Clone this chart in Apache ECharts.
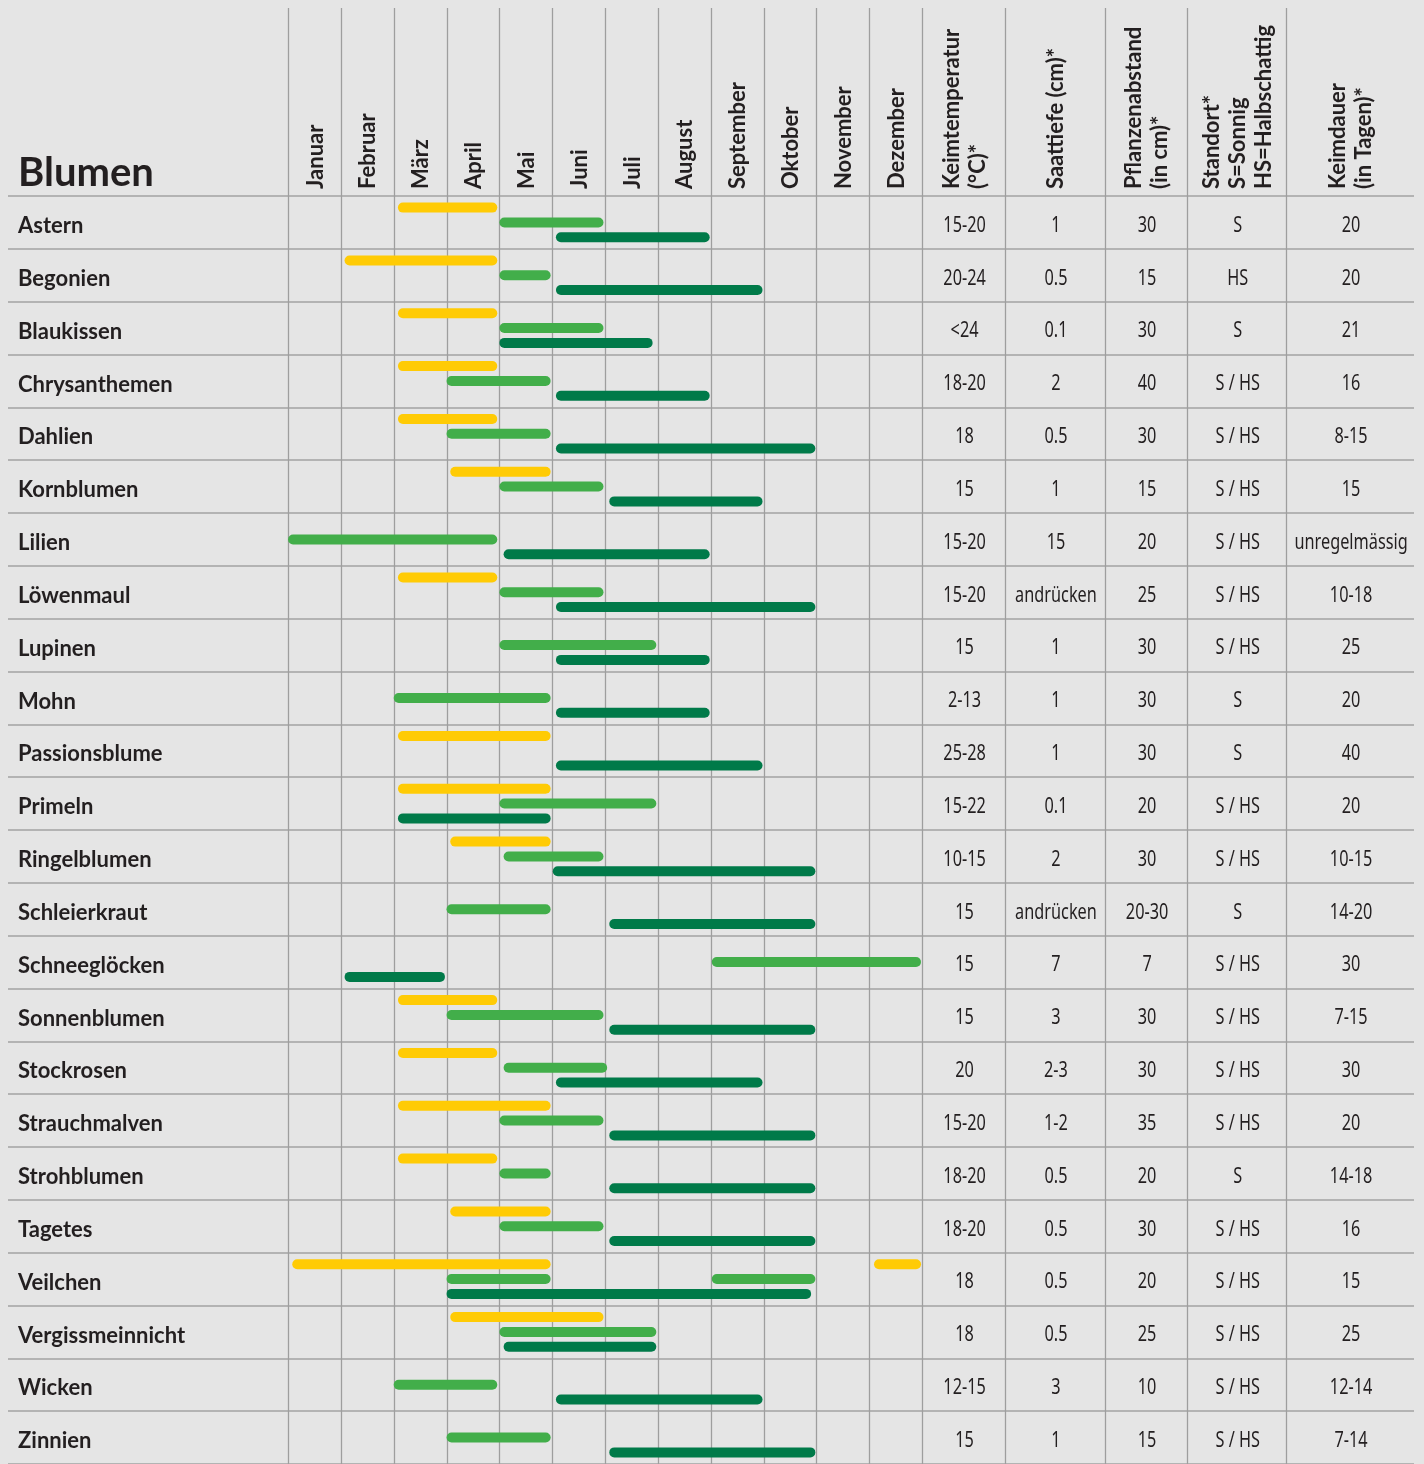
<!DOCTYPE html>
<html>
<head>
<meta charset="utf-8">
<script src="https://cdn.jsdelivr.net/npm/echarts@6/dist/echarts.min.js"></script>
<style>
  html, body { margin: 0; background: #e5e5e5; }
  #chart { width: 1424px; height: 1464px; }
</style>
</head>
<body>
<div id="chart"></div>
<script>
// Zeilen (Blumen)
const flowers = ['Astern', 'Begonien', 'Blaukissen', 'Chrysanthemen', 'Dahlien', 'Kornblumen', 'Lilien',
  'Löwenmaul', 'Lupinen', 'Mohn', 'Passionsblume', 'Primeln', 'Ringelblumen', 'Schleierkraut',
  'Schneeglöcken', 'Sonnenblumen', 'Stockrosen', 'Strauchmalven', 'Strohblumen', 'Tagetes',
  'Veilchen', 'Vergissmeinnicht', 'Wicken', 'Zinnien']

const months = ['Januar', 'Februar', 'März', 'April', 'Mai', 'Juni', 'Juli', 'August',
  'September', 'Oktober', 'November', 'Dezember']

const infoHeaders = ['Keimtemperatur\n(°C)*', 'Saattiefe (cm)*', 'Pflanzenabstand\n(in cm)*',
  'Standort*\nS=Sonnig\nHS=Halbschattig', 'Keimdauer\n(in Tagen)*']

// Tabellenwerte
const keimtemperatur = ['15-20', '20-24', '<24', '18-20', '18', '15', '15-20', '15-20', '15', '2-13', '25-28', '15-22',
  '10-15', '15', '15', '15', '20', '15-20', '18-20', '18-20', '18', '18', '12-15', '15']
const saattiefe = ['1', '0.5', '0.1', '2', '0.5', '1', '15', 'andrücken', '1', '1', '1', '0.1',
  '2', 'andrücken', '7', '3', '2-3', '1-2', '0.5', '0.5', '0.5', '0.5', '3', '1']
const pflanzenabstand = ['30', '15', '30', '40', '30', '15', '20', '25', '30', '30', '30', '20',
  '30', '20-30', '7', '30', '30', '35', '20', '30', '20', '25', '10', '15']
const standort = ['S', 'HS', 'S', 'S / HS', 'S / HS', 'S / HS', 'S / HS', 'S / HS', 'S / HS', 'S', 'S', 'S / HS',
  'S / HS', 'S', 'S / HS', 'S / HS', 'S / HS', 'S / HS', 'S', 'S / HS', 'S / HS', 'S / HS', 'S / HS', 'S / HS']
const keimdauer = ['20', '20', '21', '16', '8-15', '15', 'unregelmässig', '10-18', '25', '20', '40', '20',
  '10-15', '14-20', '30', '7-15', '30', '20', '14-18', '16', '15', '25', '12-14', '7-14']

// Balken: [Zeile, Beginn, Ende] in Monaten (0 = Anfang Januar)
const vorkultur = [ // gelb
  [0, 2.08, 3.96], [1, 1.07, 3.96], [2, 2.08, 3.96], [3, 2.08, 3.96], [4, 2.08, 3.96], [5, 3.07, 4.97],
  [7, 2.08, 3.96], [10, 2.08, 4.97], [11, 2.08, 4.97], [12, 3.07, 4.97], [15, 2.08, 3.96], [16, 2.08, 3.96],
  [17, 2.08, 4.97], [18, 2.08, 3.96], [19, 3.07, 4.97], [20, 0.08, 4.97], [20, 11.09, 11.98], [21, 3.07, 5.97]
]
const aussaat = [ // hellgrün
  [0, 4.0, 5.97], [1, 4.0, 4.97], [2, 4.0, 5.97], [3, 3.0, 4.97], [4, 3.0, 4.97], [5, 4.0, 5.97],
  [6, 0.0, 3.96], [7, 4.0, 5.97], [8, 4.0, 6.97], [9, 2.0, 4.97], [11, 4.0, 6.97], [12, 4.08, 5.97],
  [13, 3.0, 4.97], [14, 8.02, 11.98], [15, 3.0, 5.97], [16, 4.08, 6.04], [17, 4.0, 5.97], [18, 4.0, 4.97],
  [19, 4.0, 5.97], [20, 3.0, 4.97], [20, 8.02, 9.98], [21, 4.0, 6.97], [22, 2.0, 3.96], [23, 3.0, 4.97]
]
const bluete = [ // dunkelgrün
  [0, 5.07, 7.98], [1, 5.07, 8.98], [2, 4.0, 6.9], [3, 5.07, 7.98], [4, 5.07, 9.98], [5, 6.08, 8.98],
  [6, 4.08, 7.98], [7, 5.07, 9.98], [8, 5.07, 7.98], [9, 5.07, 7.98], [10, 5.07, 8.98], [11, 2.08, 4.97],
  [12, 5.01, 9.98], [13, 6.08, 9.98], [14, 1.07, 2.97], [15, 6.08, 9.98], [16, 5.07, 8.98], [17, 6.08, 9.98],
  [18, 6.08, 9.98], [19, 6.08, 9.98], [20, 3.0, 9.9], [21, 4.08, 6.97], [22, 5.07, 8.98], [23, 6.08, 9.98]
]

// Spaltengrenzen der Zusatzspalten (in Monatsbreiten)
const infoEdges = [12, 13.57, 15.46, 17.02, 18.89, 21.31]
const infoColumns = [keimtemperatur, saattiefe, pflanzenabstand, standort, keimdauer]

const HEADER_H = 188
const TEXT = '#231f20'
const HEAD_FONT = 'Lato, "Noto Sans", sans-serif'
const CELL_FONT = '"Noto Sans", sans-serif'

const chart = echarts.init(document.getElementById('chart'))

function barSeries(name, data, color, lane) {
  return {
    name: name,
    type: 'custom',
    z: 5,
    data: data,
    encode: { y: 0, x: [1, 2] },
    renderItem: function (params, api) {
      const row = api.value(0)
      const p0 = api.coord([api.value(1), row])
      const p1 = api.coord([api.value(2), row])
      const band = api.size([0, 1])[1]
      const y = p0[1] + lane * band
      return {
        type: 'rect',
        shape: { x: p0[0], y: y - 5, width: p1[0] - p0[0], height: 10, r: 5 },
        style: { fill: color }
      }
    }
  }
}

// Spaltenlinien: Monatsgrenzen + Zusatzspalten
const edgeData = []
for (let i = 0; i <= 12; i++) edgeData.push([i, 0])
infoEdges.slice(1, -1).forEach(e => edgeData.push([e, 0]))

// Kopfzeilen
const headerData = []
const headerLabels = []
months.forEach((m, i) => { headerData.push([i + 0.5, 0]); headerLabels.push(m) })
infoHeaders.forEach((h, i) => { headerData.push([(infoEdges[i] + infoEdges[i + 1]) / 2, 0]); headerLabels.push(h) })

// Zellen
const cellData = []
infoColumns.forEach((col, c) => col.forEach((v, r) => cellData.push([c, r])))

const option = {
  backgroundColor: '#e5e5e5',
  animation: false,
  title: {
    text: 'Blumen',
    left: 13,
    top: 148,
    textStyle: { fontSize: 40, fontWeight: 'bold', fontFamily: HEAD_FONT, color: TEXT }
  },
  grid: { left: 8, right: 10, top: 196, bottom: -4 },
  xAxis: { type: 'value', min: -5.3, max: 21.31, show: false },
  yAxis: {
    type: 'category',
    data: flowers,
    inverse: true,
    axisLine: { show: false },
    axisTick: { show: false },
    axisLabel: { show: false },
    splitLine: { show: true, lineStyle: { color: '#b3b3b3', width: 2 } }
  },
  series: [
    {
      type: 'custom',
      z: 1,
      data: edgeData,
      renderItem: function (params, api) {
        const x = Math.round(api.coord([api.value(0), 0])[0]) + 0.5
        const cs = params.coordSys
        return {
          type: 'line',
          shape: { x1: x, y1: cs.y - HEADER_H, x2: x, y2: cs.y + cs.height },
          style: { stroke: '#9e9e9e', lineWidth: 1.3 }
        }
      }
    },
    {
      // Blumennamen (linke Spalte)
      type: 'custom',
      z: 3,
      data: flowers.map((f, i) => [0, i]),
      renderItem: function (params, api) {
        const p = api.coord([0, api.value(1)])
        return {
          type: 'text',
          x: params.coordSys.x + 10,
          y: p[1] + 3.5,
          style: {
            text: flowers[params.dataIndex],
            fill: TEXT,
            font: 'bold 22px ' + HEAD_FONT,
            align: 'left',
            verticalAlign: 'middle'
          }
        }
      }
    },
    {
      type: 'custom',
      z: 3,
      data: headerData,
      renderItem: function (params, api) {
        const x = api.coord([api.value(0), 0])[0]
        return {
          type: 'text',
          x: x + 1,
          y: params.coordSys.y - 7,
          rotation: Math.PI / 2,
          style: {
            text: headerLabels[params.dataIndex],
            fill: TEXT,
            font: 'bold 22px ' + HEAD_FONT,
            lineHeight: 26,
            align: 'left',
            verticalAlign: 'middle'
          }
        }
      }
    },
    {
      type: 'custom',
      z: 3,
      data: cellData,
      renderItem: function (params, api) {
        const c = api.value(0)
        const r = api.value(1)
        const p = api.coord([(infoEdges[c] + infoEdges[c + 1]) / 2, r])
        return {
          type: 'text',
          x: p[0] + 1,
          y: p[1] + 3,
          scaleX: 0.74,
          style: {
            text: infoColumns[c][r],
            fill: TEXT,
            font: '22px ' + CELL_FONT,
            align: 'center',
            verticalAlign: 'middle'
          }
        }
      }
    },
    barSeries('Vorkultur', vorkultur, '#ffcb05', -0.28),
    barSeries('Aussaat', aussaat, '#42ae4a', 0),
    barSeries('Blüte', bluete, '#007a49', 0.28)
  ]
}

chart.setOption(option)
</script>
</body>
</html>
